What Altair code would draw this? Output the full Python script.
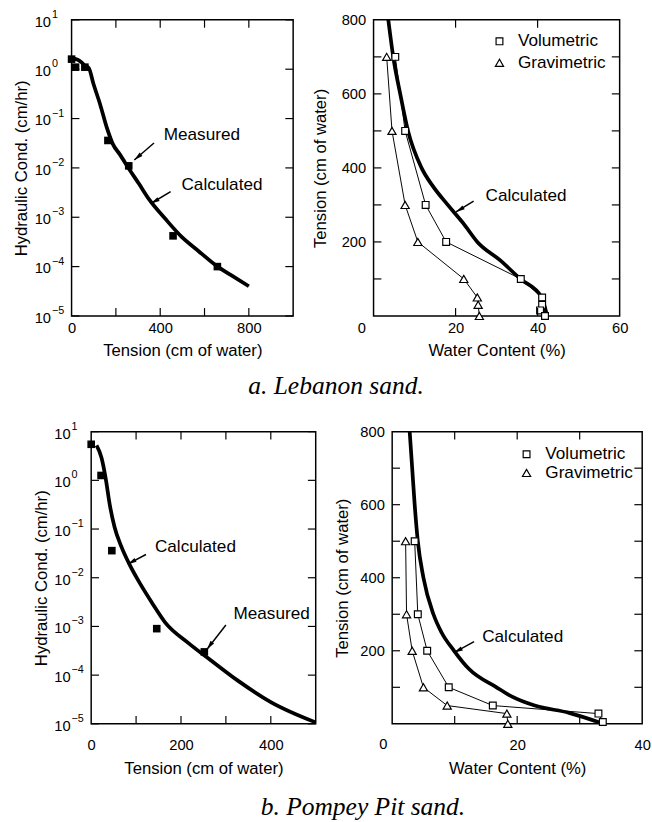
import altair as alt
import pandas as pd

# ---------------- Lebanon sand ----------------
# hydraulic conductivity (cm/hr) vs tension (cm of water)
leb_k_meas_tension = [0, 18, 60, 164, 258, 458, 658]
leb_k_meas_value = [1.6, 1.1, 1.1, 0.036, 0.011, 4.2e-4, 1.0e-4]
leb_k_calc_tension = [0, 25, 45, 60, 77, 99, 128, 158, 187, 217, 261, 305, 350, 423, 497, 571, 659, 718, 800]
leb_k_calc_value = [1.66, 1.58, 1.38, 1.17, 1.07, 0.5, 0.2, 0.068, 0.03, 0.019, 0.0093, 0.0047,
                    0.0023, 9.3e-4, 4.0e-4, 2.1e-4, 1.0e-4, 6.8e-5, 4.0e-5]

# water retention: tension (cm of water) vs water content (%)
leb_vol_tension = [700, 500, 300, 200, 100, 50, 30, 15, 0]
leb_vol_wc = [5.3, 7.7, 12.7, 17.7, 35.9, 41.1, 41.1, 40.6, 41.8]
leb_grav_tension = [700, 500, 300, 200, 100, 50, 30, 0]
leb_grav_wc = [3.2, 4.5, 7.7, 10.8, 22.0, 25.3, 25.5, 25.8]
leb_calc_tension = [800, 700, 600, 500, 400, 350, 300, 250, 200, 150, 100, 50, 5]
leb_calc_wc = [3.6, 4.8, 6.5, 8.4, 11.7, 14.5, 18.1, 21.9, 25.3, 30.9, 35.8, 41.0, 42.2]

# ---------------- Pompey Pit sand ----------------
pom_k_meas_tension = [0, 22, 46, 146, 252]
pom_k_meas_value = [5.5, 1.26, 0.036, 9.0e-4, 3.0e-4]
pom_k_calc_tension = [12, 23, 33, 41, 52, 67, 85, 107, 136, 165, 216, 267, 325, 400, 500]
pom_k_calc_value = [5.2, 2.9, 1.0, 0.33, 0.11, 0.044, 0.019, 0.0081, 0.0030, 0.0012,
                    4.6e-4, 2.0e-4, 7.9e-5, 2.8e-5, 1.07e-5]

pom_vol_tension = [500, 300, 200, 100, 50, 28, 5]
pom_vol_wc = [3.6, 4.1, 5.6, 9.05, 16.1, 33.0, 33.7]
pom_grav_tension = [500, 300, 200, 100, 50, 28, 0]
pom_grav_wc = [2.15, 2.3, 3.2, 5.0, 8.8, 18.35, 18.5]
pom_calc_tension = [800, 700, 600, 500, 400, 300, 250, 200, 150, 100, 75, 50, 30, 3]
pom_calc_wc = [2.8, 3.2, 3.6, 4.1, 5.0, 6.6, 7.9, 9.9, 12.3, 16.7, 19.1, 22.8, 28.3, 33.3]

# annotation labels and leader arrows (data units)
leb_k_notes = ["Measured", "Calculated"]
leb_k_note_t = [416, 496]
leb_k_note_k = [0.046, 0.0044]
leb_k_arrow_t = [372, 447]
leb_k_arrow_k = [0.032, 0.0033]
leb_k_arrow_t2 = [283, 358]
leb_k_arrow_k2 = [0.0145, 0.0019]

leb_r_notes = ["Calculated"]
leb_r_note_wc = [27.3]
leb_r_note_t = [323]
leb_r_arrow_wc = [24.4]
leb_r_arrow_t = [310]
leb_r_arrow_wc2 = [20.1]
leb_r_arrow_t2 = [281]

pom_k_notes = ["Calculated", "Measured"]
pom_k_note_t = [142, 317]
pom_k_note_k = [0.042, 0.0018]
pom_k_arrow_t = [122, 300]
pom_k_arrow_k = [0.030, 0.00107]
pom_k_arrow_t2 = [81.5, 258]
pom_k_arrow_k2 = [0.019, 3.4e-4]

pom_r_notes = ["Calculated"]
pom_r_note_wc = [14.4]
pom_r_note_t = [237]
pom_r_arrow_wc = [13.1]
pom_r_arrow_t = [225]
pom_r_arrow_wc2 = [9.9]
pom_r_arrow_t2 = [195]

# key entries for the retention panels (symbol position, label position; data units)
key_kinds = ["Volumetric", "Gravimetric"]
leb_key_wc = [30.7, 30.7]
leb_key_t = [742, 684]
leb_key_text_wc = [35.2, 35.2]
pom_key_wc = [21.5, 21.5]
pom_key_t = [738, 687]
pom_key_text_wc = [24.5, 24.5]

# log-axis decades and their exponent labels
decades = [1e-5, 1e-4, 1e-3, 1e-2, 1e-1, 1, 10]
decade_exp = ["\u22125", "\u22124", "\u22123", "\u22122", "\u22121", "0", "1"]

FONT = "Liberation Sans"
TEXT_SIZE = 17.5
TICK_LEN = 8
# arrowhead outline with its tip at the symbol origin
ARROW_HEAD = "M0,0L0.5,2L-0.5,2Z"

shape_scale = alt.Scale(domain=key_kinds, range=["square", "triangle-up"])
size_scale = alt.Scale(domain=key_kinds, range=[48, 70])


class Panel:
    """Scales and axes shared by every layer of one panel."""

    def __init__(self, sx, sy, ax, ay):
        self.sx, self.sy, self.ax, self.ay = sx, sy, ax, ay

    def x(self, field):
        return alt.X(field, type="quantitative", scale=self.sx, axis=self.ax)

    def y(self, field):
        return alt.Y(field, type="quantitative", scale=self.sy, axis=self.ay)


def inward_ticks(p, xs, ys, w, h):
    xdf = pd.DataFrame({"v": xs})
    ydf = pd.DataFrame({"v": ys})
    style = dict(color="black", strokeWidth=1.2)
    return [
        alt.Chart(xdf).mark_rule(**style).encode(x=p.x("v"), y=alt.value(h - TICK_LEN), y2=alt.value(h)),
        alt.Chart(xdf).mark_rule(**style).encode(x=p.x("v"), y=alt.value(0), y2=alt.value(TICK_LEN)),
        alt.Chart(ydf).mark_rule(**style).encode(y=p.y("v"), x=alt.value(0), x2=alt.value(TICK_LEN)),
        alt.Chart(ydf).mark_rule(**style).encode(y=p.y("v"), x=alt.value(w - TICK_LEN), x2=alt.value(w)),
    ]


def notes_layers(p, texts, nx, ny, ax, ay, ax2, ay2, angles):
    ndf = pd.DataFrame({"x": nx, "y": ny, "label": texts})
    layers = [
        alt.Chart(ndf).mark_text(align="left", baseline="middle", fontSize=TEXT_SIZE, font=FONT,
                                 color="black")
        .encode(x=p.x("x"), y=p.y("y"), text="label:N")
    ]
    for i, ang in enumerate(angles):
        adf = pd.DataFrame({"x": [ax[i]], "y": [ay[i]], "x2": [ax2[i]], "y2": [ay2[i]]})
        layers.append(
            alt.Chart(adf).mark_rule(color="black", strokeWidth=1.5)
            .encode(x=p.x("x"), y=p.y("y"), x2="x2:Q", y2="y2:Q")
        )
        layers.append(
            alt.Chart(adf).mark_point(shape=ARROW_HEAD, filled=True, color="black", size=81,
                                      angle=ang, opacity=1)
            .encode(x=p.x("x2"), y=p.y("y2"))
        )
    return layers


def log_labels(p):
    ddf = pd.DataFrame({"v": decades, "exp": decade_exp})
    base = alt.Chart(ddf)
    return [
        base.mark_text(align="right", baseline="middle", fontSize=15, font=FONT, dy=2, color="black")
        .encode(x=alt.value(-21), y=p.y("v"), text=alt.value("10")),
        base.mark_text(align="left", baseline="middle", fontSize=11, font=FONT, dy=-5, color="black")
        .encode(x=alt.value(-20), y=p.y("v"), text="exp:N"),
    ]


def k_panel(mt, mk, ct, ck, xmax, xlabels, xticks, w, h, notes, angles, title_pad, lab_pad, tit_pad):
    p = Panel(
        alt.Scale(domain=[0, xmax], nice=False, zero=False),
        alt.Scale(type="log", domain=[1e-5, 10], nice=False),
        alt.Axis(values=xlabels, title="Tension (cm of water)", labelPadding=lab_pad, titlePadding=tit_pad,
                 labelFlush=False),
        alt.Axis(labels=False, title="Hydraulic Cond. (cm/hr)", titlePadding=title_pad),
    )
    cdf = pd.DataFrame({"t": ct, "k": ck})
    mdf = pd.DataFrame({"t": mt, "k": mk})
    calc = alt.Chart(cdf).mark_line(color="black", strokeWidth=3.8, interpolate="monotone").encode(
        x=p.x("t"), y=p.y("k")
    )
    meas = alt.Chart(mdf).mark_square(color="black", size=60, opacity=1).encode(x=p.x("t"), y=p.y("k"))
    layers = [calc, meas] + inward_ticks(p, xticks, decades, w, h) + log_labels(p)
    layers += notes_layers(p, *notes, angles)
    return alt.layer(*layers).properties(width=w, height=h)


def retention_panel(vt, vw, gt, gw, ct, cw, xmax, xlabels, xticks, zero_shift, w, h, notes, angles,
                    key_wc, key_t, key_text_wc, title_pad, lab_pad, tit_pad):
    p = Panel(
        alt.Scale(domain=[0, xmax], nice=False, zero=False),
        alt.Scale(domain=[0, 800], nice=False, zero=False),
        alt.Axis(values=xlabels, title="Water Content (%)", labelPadding=lab_pad, titlePadding=tit_pad,
                 labelFlush=False),
        alt.Axis(values=[200, 400, 600, 800], title="Tension (cm of water)", labelPadding=8,
                 titlePadding=title_pad),
    )
    cdf = pd.DataFrame({"wc": cw, "t": ct})
    pts = pd.DataFrame({
        "wc": vw + gw,
        "t": vt + gt,
        "kind": ["Volumetric"] * len(vw) + ["Gravimetric"] * len(gw),
        "i": list(range(len(vw))) + list(range(len(gw))),
    })
    key = pd.DataFrame({"wc": key_wc, "t": key_t, "twc": key_text_wc, "kind": key_kinds})
    origin = pd.DataFrame({"wc": [0], "t": [0], "label": ["0"]})
    calc = alt.Chart(cdf).mark_line(color="black", strokeWidth=3.8, interpolate="monotone").encode(
        x=p.x("wc"), y=p.y("t")
    )
    links = alt.Chart(pts).mark_line(color="black", strokeWidth=1).encode(
        x=p.x("wc"), y=p.y("t"), detail="kind:N", order=alt.Order("i:Q")
    )
    point_style = dict(fill="white", stroke="black", strokeWidth=1.2, filled=False, opacity=1)
    marks = alt.Chart(pts).mark_point(**point_style).encode(
        x=p.x("wc"), y=p.y("t"),
        shape=alt.Shape("kind:N", scale=shape_scale, legend=None),
        size=alt.Size("kind:N", scale=size_scale, legend=None),
    )
    key_marks = alt.Chart(key).mark_point(**point_style).encode(
        x=p.x("wc"), y=p.y("t"),
        shape=alt.Shape("kind:N", scale=shape_scale, legend=None),
        size=alt.Size("kind:N", scale=size_scale, legend=None),
    )
    key_text = alt.Chart(key).mark_text(align="left", baseline="middle", fontSize=TEXT_SIZE, font=FONT,
                                        color="black").encode(x=p.x("twc"), y=p.y("t"), text="kind:N")
    # shared corner label for both axes
    corner = alt.Chart(origin).mark_text(align="center", baseline="top", fontSize=15, font=FONT,
                                         color="black", dx=zero_shift, dy=lab_pad).encode(
        x=p.x("wc"), y=p.y("t"), text="label:N"
    )
    layers = [calc, links, marks, key_marks, key_text, corner]
    layers += inward_ticks(p, xticks, [100, 200, 300, 400, 500, 600, 700], w, h)
    layers += notes_layers(p, *notes, angles)
    return alt.layer(*layers).properties(width=w, height=h)


def margin(w):
    """Empty, unframed cell that sets how far a row starts from the left edge."""
    return alt.Chart(pd.DataFrame({"a": [0]})).mark_point(opacity=0, size=1).encode(
        x=alt.value(w / 2), y=alt.value(5)
    ).properties(width=w, height=10, view=alt.ViewBackground(stroke="transparent"))


leb_k = k_panel(
    leb_k_meas_tension, leb_k_meas_value, leb_k_calc_tension, leb_k_calc_value,
    1000, [0, 400, 800], [200, 400, 600, 800], 226, 302,
    (leb_k_notes, leb_k_note_t, leb_k_note_k, leb_k_arrow_t, leb_k_arrow_k, leb_k_arrow_t2, leb_k_arrow_k2),
    [230, 240], 42, 5, 7,
)
leb_r = retention_panel(
    leb_vol_tension, leb_vol_wc, leb_grav_tension, leb_grav_wc, leb_calc_tension, leb_calc_wc,
    60, [20, 40, 60], [20, 40], -12, 251, 302,
    (leb_r_notes, leb_r_note_wc, leb_r_note_t, leb_r_arrow_wc, leb_r_arrow_t, leb_r_arrow_wc2, leb_r_arrow_t2),
    [239], leb_key_wc, leb_key_t, leb_key_text_wc, 12, 5, 7,
)
pom_k = k_panel(
    pom_k_meas_tension, pom_k_meas_value, pom_k_calc_tension, pom_k_calc_value,
    500, [0, 200, 400], [100, 200, 300, 400], 229, 298,
    (pom_k_notes, pom_k_note_t, pom_k_note_k, pom_k_arrow_t, pom_k_arrow_k, pom_k_arrow_t2, pom_k_arrow_k2),
    [241, 217], 42, 14, 9,
)
pom_r = retention_panel(
    pom_vol_tension, pom_vol_wc, pom_grav_tension, pom_grav_wc, pom_calc_tension, pom_calc_wc,
    40, [20, 40], [10, 20, 30], -9, 255, 298,
    (pom_r_notes, pom_r_note_wc, pom_r_note_t, pom_r_arrow_wc, pom_r_arrow_t, pom_r_arrow_wc2, pom_r_arrow_t2),
    [242], pom_key_wc, pom_key_t, pom_key_text_wc, 9, 14, 9,
)


def caption(text, dx, offset):
    return alt.TitleParams(text=text, orient="bottom", anchor="middle", font="Liberation Serif",
                           fontStyle="italic", fontSize=26, fontWeight="normal", color="black",
                           dx=dx, offset=offset)


row_a = alt.hconcat(margin(10), alt.hconcat(leb_k, leb_r, spacing=16), spacing=0,
                    title=caption("a. Lebanon sand.", 22, 15))
row_b = alt.hconcat(margin(30), alt.hconcat(pom_k, pom_r, spacing=8), spacing=0,
                    title=caption("b. Pompey Pit sand.", 38, 17))

chart = alt.vconcat(row_a, row_b, spacing=21).properties(
    padding={"left": 0, "top": 0, "right": 0, "bottom": 0}
).configure(font=FONT).configure_view(stroke="black", strokeWidth=1.5).configure_axis(
    labelFont=FONT, titleFont=FONT, labelFontSize=15, titleFontSize=17, titleFontWeight="normal",
    labelColor="black", titleColor="black", domain=False, ticks=False, grid=False,
)

chart.save("out.html", embed_options={"renderer": "svg", "actions": False})
